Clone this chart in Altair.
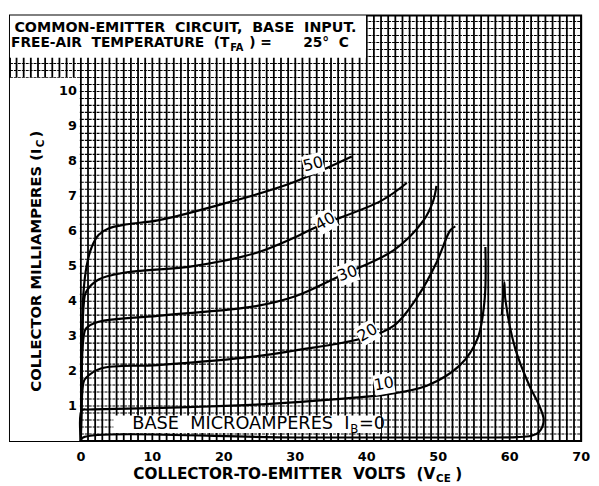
import altair as alt
import pandas as pd
import numpy as np

# ---------------- data ----------------
ib_0_v  = [0, 0.3, 30, 55, 61, 63, 64.08, 64.76, 64.08, 62.7, 60.77, 59.39, 59.25, 58.9]
ib_0_i  = [0, 0.1, 0.1, 0.1, 0.11, 0.15, 0.25, 0.59, 1.04, 1.61, 2.65, 4.06, 4.54, 3.6]
ib_10_v = [0, 0.14, 1.0, 5, 15, 24.5, 38.3, 42.4, 48.4, 53.05, 55.5, 56.5, 56.6]
ib_10_i = [0, 0.88, 0.90, 0.92, 0.97, 1.04, 1.24, 1.32, 1.58, 2.17, 2.93, 4.06, 5.55]
ib_20_v = [0, 0.2, 0.4, 0.69, 2.89, 10.75, 24.5, 30.0, 39.3, 43.8, 47.5, 49.75, 51.7, 52.4]
ib_20_i = [0, 1.4, 1.7, 1.80, 2.08, 2.17, 2.42, 2.59, 2.93, 3.30, 4.25, 5.10, 6.03, 6.14]
ib_30_v = [0, 0.2, 0.4, 0.69, 2.48, 10.75, 24.5, 30.0, 36.0, 43.8, 47.95, 49.3, 49.75]
ib_30_i = [0, 2.5, 3.0, 3.21, 3.41, 3.58, 3.86, 4.14, 4.70, 5.46, 6.31, 6.87, 7.30]
ib_40_v = [0, 0.2, 0.4, 0.69, 2.48, 6.2, 15.3, 24.5, 30.0, 32.8, 42.0, 45.6]
ib_40_i = [0, 3.0, 3.9, 4.25, 4.62, 4.82, 4.99, 5.38, 5.83, 6.11, 6.87, 7.38]
ib_50_v = [0, 0.15, 0.35, 0.8, 1.52, 2.5, 3.86, 6.5, 10.75, 19.98, 29.08, 37.9]
ib_50_i = [0, 2.5, 4.2, 5.0, 5.55, 5.9, 6.08, 6.2, 6.31, 6.79, 7.35, 8.14]

curve_names = ["0", "10", "20", "30", "40", "50"]
curve_v = [ib_0_v, ib_10_v, ib_20_v, ib_30_v, ib_40_v, ib_50_v]
curve_i = [ib_0_i, ib_10_i, ib_20_i, ib_30_i, ib_40_i, ib_50_i]

label_text = ["10", "20", "30", "40", "50"]
label_v = [42.4, 40.1, 37.3, 34.2, 32.5]
label_i = [1.63, 3.10, 4.79, 6.28, 7.92]
label_ang = [350, 330, 340, 330, 345]

x_tick_values = [0, 10, 20, 30, 40, 50, 60, 70]
y_tick_values = [1, 2, 3, 4, 5, 6, 7, 8, 9, 10]

# ---------------- scales ----------------
XMIN, XMAX = -9.92, 70
YMIN, YMAX = 0, 12.17
xs = alt.Scale(domain=[XMIN, XMAX], nice=False, zero=False)
ys = alt.Scale(domain=[YMIN, YMAX], nice=False, zero=False)


def X(f):
    return alt.X(f, type="quantitative", scale=xs, axis=None)


def Y(f):
    return alt.Y(f, type="quantitative", scale=ys, axis=None)


FONT = "DejaVu Sans"
SP = "\u00a0\u00a0"  # wide word gap of the lettering

# ---------------- grid ----------------
vg = pd.DataFrame({"v": np.arange(-9, 71)})
vg["y0"] = YMIN
vg["y1"] = YMAX
vgrid = alt.Chart(vg).mark_rule(color="black", strokeWidth=1.8).encode(
    x=X("v"), y=Y("y0"), y2="y1"
)

hg = pd.DataFrame({"i": np.round(np.arange(0, 12.2, 0.2), 2)})
hg["x0"] = XMIN
hg["x1"] = XMAX
hgrid = alt.Chart(hg).mark_rule(color="black", strokeWidth=1.1, strokeDash=[3, 1]).encode(
    y=Y("i"), x=X("x0"), x2="x1"
)

# white panels (title box, axis label strip, legend box)
panels = pd.DataFrame({
    "x1": [XMIN, XMIN, 4.55],
    "x2": [-0.15, 39.9, 42.0],
    "y1": [0, 10.96, 0.23],
    "y2": [10.39, YMAX, 0.73],
})
white = alt.Chart(panels).mark_rect(color="white").encode(
    x=X("x1"), x2="x2", y=Y("y1"), y2="y2"
)

# ---------------- curves ----------------
rows = []
for name, vv, ii in zip(curve_names, curve_v, curve_i):
    for k, (v, i) in enumerate(zip(vv, ii)):
        rows.append({"ib": name, "idx": k, "v": v, "i": i})
curves_df = pd.DataFrame(rows)

curves = alt.Chart(curves_df).mark_line(
    color="black", strokeWidth=2.2, interpolate="catmull-rom"
).encode(x=X("v"), y=Y("i"), detail="ib:N", order="idx:Q")

lab_df = pd.DataFrame({"t": label_text, "v": label_v, "i": label_i, "a": label_ang})
lab_bg = alt.Chart(lab_df).mark_point(shape="square", filled=True, color="white", opacity=1, size=420).encode(
    x=X("v"), y=Y("i"), angle=alt.Angle("a:Q", scale=None)
)
lab_tx = alt.Chart(lab_df).mark_text(font=FONT, fontSize=16, color="black", baseline="middle").encode(
    x=X("v"), y=Y("i"), text="t:N", angle=alt.Angle("a:Q", scale=None)
)

# ---------------- tick labels ----------------
xt_df = pd.DataFrame({"t": x_tick_values})
xt_df["i"] = -0.45
xt = alt.Chart(xt_df).mark_text(
    font=FONT, fontSize=13, fontWeight="bold", baseline="middle", color="black"
).encode(x=X("t"), y=Y("i"), text="t:Q")

yt_df = pd.DataFrame({"t": y_tick_values})
yt_df["v"] = -0.55
yt = alt.Chart(yt_df).mark_text(
    font=FONT, fontSize=13, fontWeight="bold", baseline="middle", align="right", color="black"
).encode(y=Y("t"), x=X("v"), text="t:Q")


def txt(s, v, i, size=13, align="left", dx=0, dy=0, angle=0, weight="bold"):
    return alt.Chart(pd.DataFrame({"s": [s], "v": [v], "i": [i]})).mark_text(
        font=FONT, fontSize=size, fontWeight=weight, align=align, baseline="middle",
        dx=dx, dy=dy, angle=angle, color="black"
    ).encode(x=X("v"), y=Y("i"), text="s:N")


texts = [
    txt(f"COMMON-EMITTER{SP}CIRCUIT,{SP}BASE{SP}INPUT.", -9.3, 11.82, size=14.5),
    txt(f"FREE-AIR{SP}TEMPERATURE{SP}(T", 20.8, 11.38, size=14),
    txt("FA", 20.9, 11.38, size=10, dy=5),
    txt(")\u00a0=", 23.56, 11.38, size=14),
    txt(f"25°{SP}C", 31.1, 11.38, size=14),
    txt(f"COLLECTOR-TO-EMITTER{SP}VOLTS{SP}(V", 49.6, -0.95, size=15.5, align="right"),
    txt("CE", 49.7, -0.95, size=10.5, dy=5),
    txt(")", 52.4, -0.95, size=15.5),
    txt("COLLECTOR MILLIAMPERES (I", -6.2, 8.37, size=15, align="right", angle=270),
    txt("C", -6.2, 8.40, size=10.5, dy=5, angle=270),
    txt(")", -6.2, 8.68, size=15, angle=270),
    txt(f"BASE{SP}MICROAMPERES{SP}I", 37.6, 0.47, size=18, align="right", weight="normal"),
    txt("B", 37.7, 0.47, size=12, dy=5, weight="normal"),
    txt("=0", 38.9, 0.47, size=18, weight="normal"),
]
# left-aligned pieces of line 2 are anchored by their right end
texts[1] = txt(f"FREE-AIR{SP}TEMPERATURE{SP}(T", 20.8, 11.38, size=14, align="right")

chart = alt.layer(
    vgrid, hgrid, white, curves, lab_bg, lab_tx, xt, yt, *texts
).properties(
    width=580, height=432,
    padding={"left": 2, "top": 4, "right": 10, "bottom": 42},
    autosize=alt.AutoSizeParams(type="none"),
    background="white",
).configure_view(stroke="black", strokeWidth=2)

chart.save("out.html", embed_options={"renderer": "svg", "actions": False})
